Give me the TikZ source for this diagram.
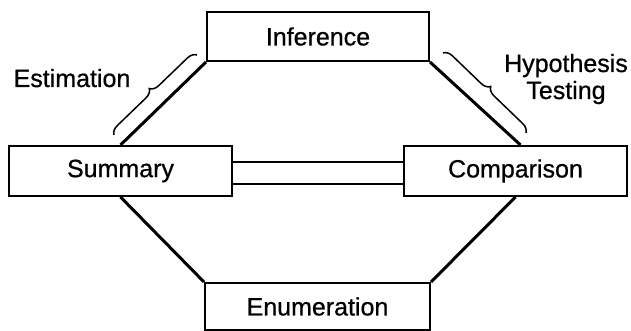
\documentclass[tikz,border=0pt]{standalone}
\usepackage{fontspec}
\setmainfont{Liberation Sans}
\newfontfamily\labelfont{Liberation Sans}[FakeBold=0.7]
\usetikzlibrary{calc}
\usetikzlibrary{decorations.pathreplacing}
\tikzset{
  stage/.style = {draw, line width=2pt, minimum width=223pt, minimum height=50pt, inner sep=0pt},
  link/.style = {line width=3pt},
  bar/.style = {line width=2.5pt},
  curly/.style = {decorate, decoration={brace, amplitude=9pt}, line width=1.5pt},
  every node/.style = {font=\labelfont\fontsize{25}{28}\selectfont}
}

\begin{document}
\begin{tikzpicture}[x=1pt, y=1pt]
\useasboundingbox (0,0) rectangle (631,331);
\node[stage, minimum width=222pt, minimum height=49pt] (inf) at (318,294.5) {Inference};
\node[stage] (sum) at (120.5,160) {Summary};
\node[stage] (comp) at (515.5,160) {Comparison};
\node[stage, minimum width=225pt, minimum height=47pt] (enum) at (317.5,24.5) {Enumeration};
\draw[link] (sum.north) -- (inf.south west);
\draw[link] (inf.south east) -- ([xshift=5pt]comp.north);
\draw[link] (sum.south) -- (enum.north west);
\draw[link] (comp.south) -- (enum.north east);
\foreach \dy in {9,-13} {
  \draw[bar] ($(sum.east)+(0,\dy)$) -- ($(comp.west)+(0,\dy)$);
}
% braces along the upper links
\draw[curly] (114,196) -- (197,276);
\draw[curly] (443,278) -- (526,198);
\node[anchor=base] (est) at (72,244) {Estimation};
\node[anchor=base] (hyp) at (566,259) {Hypothesis};
\node[anchor=base] (test) at (566,232) {Testing};
\end{tikzpicture}
\end{document}
